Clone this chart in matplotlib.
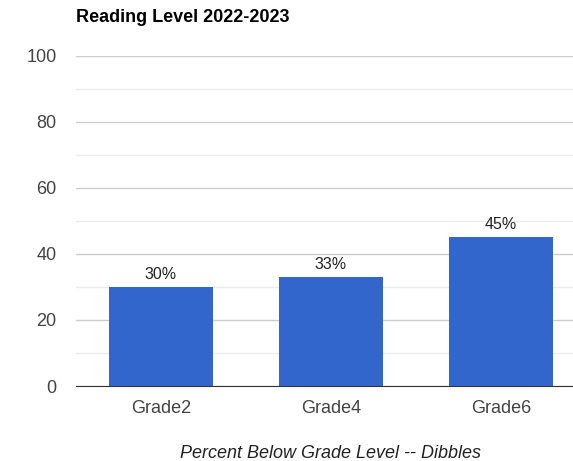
import matplotlib
matplotlib.use('Agg')
from matplotlib import pyplot as plt
from matplotlib.ticker import MultipleLocator

grades = ['Grade2', 'Grade4', 'Grade6']
below_pct = [30, 33, 45]
bar_labels = ['30%', '33%', '45%']

plt.rcParams['font.family'] = ['Liberation Sans', 'DejaVu Sans']

fig = plt.figure(figsize=(5.73, 4.61), dpi=100)
ax = fig.add_axes([76/573, 75/461, 510/573, 330/461])

x = range(len(grades))
bars = ax.bar(x, below_pct, width=0.61, color='#3366cc', zorder=3)
for b, lab in zip(bars, bar_labels):
    ax.text(b.get_x() + b.get_width()/2, b.get_height() + 1.6, lab,
            ha='center', va='bottom', fontsize=11.5, color='#222222')

ax.set_xlim(-0.5, len(grades) - 0.5)
ax.set_ylim(0, 100)
ax.yaxis.set_major_locator(MultipleLocator(20))
ax.yaxis.set_minor_locator(MultipleLocator(10))
ax.grid(axis='y', which='major', color='#cccccc', linewidth=1, zorder=0)
ax.grid(axis='y', which='minor', color='#ebebeb', linewidth=1, zorder=0)
ax.set_xticks(list(x))
ax.set_xticklabels(grades)
ax.tick_params(axis='both', length=0, labelsize=13, labelcolor='#444444')
ax.tick_params(axis='y', which='minor', length=0)
ax.tick_params(axis='x', pad=10)
ax.tick_params(axis='y', pad=14)
for s in ['top', 'right', 'left']:
    ax.spines[s].set_visible(False)
ax.spines['bottom'].set_color('#333333')
ax.spines['bottom'].set_zorder(4)

ax.set_xlabel('Percent Below Grade Level -- Dibbles', fontsize=13,
              style='italic', color='#222222', labelpad=20)
fig.text(76/573, 1 - 17/461, 'Reading Level 2022-2023', fontsize=13,
         fontweight='bold', color='#000000', ha='left', va='center')

fig.savefig('out.png', dpi=100)
